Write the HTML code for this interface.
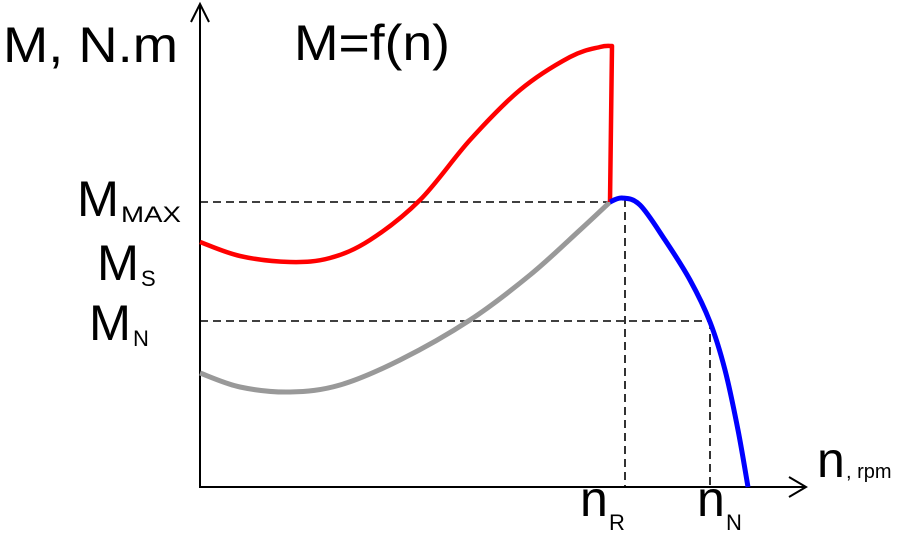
<!DOCTYPE html>
<html><head><meta charset="utf-8"><style>
html,body{margin:0;padding:0;background:#fff}
svg{display:block}
text{font-family:"Liberation Sans",Arial,sans-serif;fill:#000}
</style></head><body>
<svg id="chart" width="907" height="542" viewBox="0 0 907 542" xmlns="http://www.w3.org/2000/svg">
<g id="guides"></g>
<g id="axes">
  <line x1="200" y1="488" x2="200" y2="5" stroke="#000" stroke-width="2"/>
  <polyline points="191,22 200,4 209,22" fill="none" stroke="#000" stroke-width="2"/>
  <line x1="199" y1="487" x2="805" y2="487" stroke="#000" stroke-width="2"/>
  <polyline points="789,477 806,487 789,497" fill="none" stroke="#000" stroke-width="2"/>
</g>
<g id="curves"></g>
<text x="3" y="62" font-size="50" textLength="175" lengthAdjust="spacingAndGlyphs">M, N.m</text>
<text x="294" y="60" font-size="50" textLength="156" lengthAdjust="spacingAndGlyphs">M=f(n)</text>
<text x="77" y="216" font-size="50" textLength="42" lengthAdjust="spacingAndGlyphs">M</text>
<text x="121" y="222" font-size="22" textLength="60" lengthAdjust="spacingAndGlyphs">MAX</text>
<text x="97" y="280" font-size="50" textLength="42" lengthAdjust="spacingAndGlyphs">M</text>
<text x="141" y="286" font-size="22">S</text>
<text x="89" y="340" font-size="50" textLength="42" lengthAdjust="spacingAndGlyphs">M</text>
<text x="133" y="346" font-size="22">N</text>
<text x="580" y="516" font-size="50">n</text>
<text x="609" y="530" font-size="22">R</text>
<text x="697" y="516" font-size="50">n</text>
<text x="726" y="530" font-size="22">N</text>
<text x="817" y="477" font-size="50">n</text>
<text x="846" y="478" font-size="20">, rpm</text>
</svg>
<script>
// data: n (speed units) and M (torque units)
const redN = [0, 40, 90, 130, 170, 220, 270, 320, 370, 400, 412];
const redM = [245, 231, 225, 229, 247, 287, 347, 397, 430, 440, 441];
const redDropM = 287;
const grayN = [0, 40, 90, 140, 200, 270, 330, 380, 410];
const grayM = [114, 100, 95, 102, 127, 167, 212, 257, 285];
const blueN = [410, 422, 440, 465, 490, 510, 525, 538, 548];
const blueM = [285, 289, 282, 247, 207, 165, 117, 57, 0];
const mMax = 285, mN = 166, nR = 425, nN = 510;

const X0 = 200, Y0 = 487;
function sx(n){ return X0 + n; }
function sy(m){ return Y0 - m; }
const NS = "http://www.w3.org/2000/svg";

function smoothPath(ns, ms){
  const p = ns.map((n,i)=>[sx(n), sy(ms[i])]);
  let d = "M" + p[0][0] + "," + p[0][1];
  for(let i=0;i<p.length-1;i++){
    const p0=p[Math.max(0,i-1)], p1=p[i], p2=p[i+1], p3=p[Math.min(p.length-1,i+2)];
    const c1x=p1[0]+(p2[0]-p0[0])/6, c1y=p1[1]+(p2[1]-p0[1])/6;
    const c2x=p2[0]-(p3[0]-p1[0])/6, c2y=p2[1]-(p3[1]-p1[1])/6;
    d += " C"+c1x+","+c1y+" "+c2x+","+c2y+" "+p2[0]+","+p2[1];
  }
  return d;
}
const curves = document.getElementById("curves");
const guides = document.getElementById("guides");

function addPath(parent, d, color, w, dash){
  const el = document.createElementNS(NS,"path");
  el.setAttribute("d", d);
  el.setAttribute("fill","none");
  el.setAttribute("stroke", color);
  el.setAttribute("stroke-width", w);
  el.setAttribute("stroke-linejoin","round");
  if(dash) el.setAttribute("stroke-dasharray", dash);
  parent.appendChild(el);
  return el;
}
let g;
g = addPath(guides, "M"+sx(0)+","+sy(mMax)+" H"+sx(grayN[grayN.length-1]), "#000", 1.6, "8,5");


g = addPath(guides, "M"+sx(0)+","+sy(mN)+" H"+sx(nN), "#000", 1.6, "8,5");


g = addPath(guides, "M"+sx(nR)+","+sy(mMax+3)+" V"+sy(0), "#000", 1.6, "8,5");


g = addPath(guides, "M"+sx(nN)+","+sy(mN)+" V"+sy(0), "#000", 1.6, "8,5");



let c;
c = addPath(curves, smoothPath(grayN, grayM), "#999", 5);


c = addPath(curves, smoothPath(redN, redM) + " L"+sx(redN[redN.length-1]-2)+","+sy(redDropM-2), "#f00", 4.5);


c = addPath(curves, smoothPath(blueN, blueM), "#00f", 5);


</script>
</body></html>
